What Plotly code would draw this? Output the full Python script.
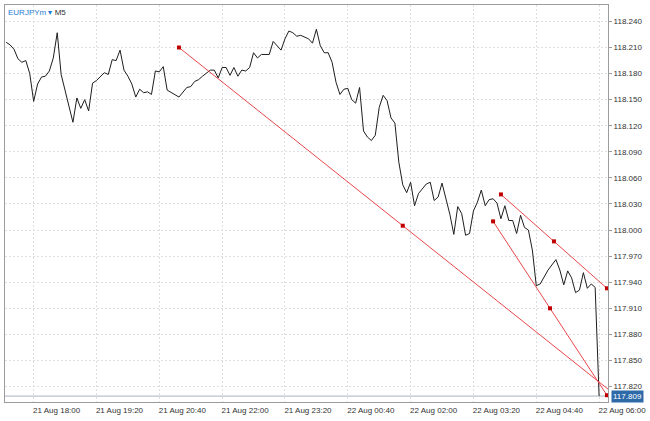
import plotly.graph_objects as go

# ---- price series (M5 closes, EURJPYm) ----
times = [
    "2019-08-21 17:25", "2019-08-21 17:30", "2019-08-21 17:35", "2019-08-21 17:40", "2019-08-21 17:45",
    "2019-08-21 17:50", "2019-08-21 17:55", "2019-08-21 18:00", "2019-08-21 18:05", "2019-08-21 18:10",
    "2019-08-21 18:15", "2019-08-21 18:20", "2019-08-21 18:25", "2019-08-21 18:30", "2019-08-21 18:35",
    "2019-08-21 18:45", "2019-08-21 18:50", "2019-08-21 18:55", "2019-08-21 19:00", "2019-08-21 19:05",
    "2019-08-21 19:10", "2019-08-21 19:15", "2019-08-21 19:20", "2019-08-21 19:30", "2019-08-21 19:35",
    "2019-08-21 19:40", "2019-08-21 19:45", "2019-08-21 19:50", "2019-08-21 19:55", "2019-08-21 20:00",
    "2019-08-21 20:05", "2019-08-21 20:10", "2019-08-21 20:15", "2019-08-21 20:20", "2019-08-21 20:25",
    "2019-08-21 20:30", "2019-08-21 20:35", "2019-08-21 20:40", "2019-08-21 20:45", "2019-08-21 20:50",
    "2019-08-21 20:55", "2019-08-21 21:05", "2019-08-21 21:15", "2019-08-21 21:20", "2019-08-21 21:25",
    "2019-08-21 21:30", "2019-08-21 21:35", "2019-08-21 21:45", "2019-08-21 21:50", "2019-08-21 21:55",
    "2019-08-21 22:00", "2019-08-21 22:05", "2019-08-21 22:10", "2019-08-21 22:15", "2019-08-21 22:20",
    "2019-08-21 22:25", "2019-08-21 22:30", "2019-08-21 22:35", "2019-08-21 22:40", "2019-08-21 22:45",
    "2019-08-21 22:50", "2019-08-21 23:00", "2019-08-21 23:05", "2019-08-21 23:10", "2019-08-21 23:15",
    "2019-08-21 23:20", "2019-08-21 23:25", "2019-08-21 23:30", "2019-08-21 23:35", "2019-08-21 23:40",
    "2019-08-21 23:50", "2019-08-21 23:55", "2019-08-22 00:00", "2019-08-22 00:05", "2019-08-22 00:10",
    "2019-08-22 00:15", "2019-08-22 00:20", "2019-08-22 00:25", "2019-08-22 00:30", "2019-08-22 00:35",
    "2019-08-22 00:40", "2019-08-22 00:45", "2019-08-22 00:50", "2019-08-22 00:55", "2019-08-22 01:00",
    "2019-08-22 01:05", "2019-08-22 01:10", "2019-08-22 01:15", "2019-08-22 01:20", "2019-08-22 01:25",
    "2019-08-22 01:30", "2019-08-22 01:35", "2019-08-22 01:40", "2019-08-22 01:45", "2019-08-22 01:50",
    "2019-08-22 01:55", "2019-08-22 02:00", "2019-08-22 02:05", "2019-08-22 02:10", "2019-08-22 02:20",
    "2019-08-22 02:25", "2019-08-22 02:30", "2019-08-22 02:35", "2019-08-22 02:40", "2019-08-22 02:45",
    "2019-08-22 02:50", "2019-08-22 02:55", "2019-08-22 03:00", "2019-08-22 03:05", "2019-08-22 03:10",
    "2019-08-22 03:15", "2019-08-22 03:20", "2019-08-22 03:25", "2019-08-22 03:30", "2019-08-22 03:35",
    "2019-08-22 03:40", "2019-08-22 03:45", "2019-08-22 03:50", "2019-08-22 03:55", "2019-08-22 04:00",
    "2019-08-22 04:05", "2019-08-22 04:10", "2019-08-22 04:15", "2019-08-22 04:20", "2019-08-22 04:25",
    "2019-08-22 04:30", "2019-08-22 04:35", "2019-08-22 04:40", "2019-08-22 04:45", "2019-08-22 04:55",
    "2019-08-22 05:05", "2019-08-22 05:10", "2019-08-22 05:15", "2019-08-22 05:20", "2019-08-22 05:25",
    "2019-08-22 05:30", "2019-08-22 05:35", "2019-08-22 05:40", "2019-08-22 05:45", "2019-08-22 05:50",
    "2019-08-22 05:55", "2019-08-22 06:00",
]
prices = [
    118.216, 118.213, 118.208, 118.197, 118.193,
    118.195, 118.180, 118.148, 118.168, 118.176,
    118.177, 118.183, 118.198, 118.227, 118.179,
    118.141, 118.124, 118.152, 118.140, 118.150,
    118.137, 118.169, 118.172, 118.181, 118.179,
    118.196, 118.195, 118.207, 118.184, 118.177,
    118.168, 118.153, 118.162, 118.158, 118.159,
    118.156, 118.183, 118.182, 118.188, 118.161,
    118.158, 118.153, 118.164, 118.165, 118.171,
    118.173, 118.177, 118.184, 118.184, 118.175,
    118.187, 118.187, 118.178, 118.187, 118.177,
    118.184, 118.183, 118.187, 118.204, 118.198,
    118.202, 118.202, 118.217, 118.212, 118.207,
    118.220, 118.229, 118.227, 118.223, 118.224,
    118.220, 118.215, 118.231, 118.212, 118.204,
    118.204, 118.193, 118.170, 118.156, 118.162,
    118.163, 118.150, 118.146, 118.164, 118.114,
    118.107, 118.103, 118.109, 118.141, 118.155,
    118.149, 118.129, 118.123, 118.078, 118.052,
    118.043, 118.055, 118.028, 118.042, 118.053,
    118.055, 118.034, 118.038, 118.054, 118.037,
    118.018, 117.995, 118.027, 118.019, 117.994,
    117.996, 118.022, 118.032, 118.046, 118.028,
    118.035, 118.036, 118.031, 118.013, 118.028,
    118.011, 118.011, 117.996, 118.017, 118.003,
    118.000, 117.977, 117.936, 117.938, 117.954,
    117.966, 117.954, 117.937, 117.953, 117.945,
    117.928, 117.931, 117.951, 117.933, 117.938,
    117.934, 117.809,
]

# ---- trend lines (start, middle handle, end) ----
trend_a_x = ["2019-08-21 21:05", "2019-08-22 01:50", "2019-08-22 06:35"]
trend_a_y = [118.210, 118.005, 117.800]
trend_b_x = ["2019-08-22 03:55", "2019-08-22 05:02:30", "2019-08-22 06:10"]
trend_b_y = [118.041, 117.987, 117.933]
trend_c_x = ["2019-08-22 03:45", "2019-08-22 04:57:30", "2019-08-22 06:10"]
trend_c_y = [118.010, 117.910, 117.810]

bid_price = 117.809
bid_label = "117.809"

# ---- axes ----
x_tick_vals = [
    "2019-08-21 18:00", "2019-08-21 19:20", "2019-08-21 20:40", "2019-08-21 22:00",
    "2019-08-21 23:20", "2019-08-22 00:40", "2019-08-22 02:00", "2019-08-22 03:20",
    "2019-08-22 04:40", "2019-08-22 06:00",
]
x_tick_text = [
    "21 Aug 18:00", "21 Aug 19:20", "21 Aug 20:40", "21 Aug 22:00", "21 Aug 23:20",
    "22 Aug 00:40", "22 Aug 02:00", "22 Aug 03:20", "22 Aug 04:40", "22 Aug 06:00",
]
y_tick_vals = [117.820, 117.850, 117.880, 117.910, 117.940, 117.970, 118.000, 118.030,
               118.060, 118.090, 118.120, 118.150, 118.180, 118.210, 118.240]
y_tick_text = ["117.820", "117.850", "117.880", "117.910", "117.940", "117.970", "118.000",
               "118.030", "118.060", "118.090", "118.120", "118.150", "118.180", "118.210",
               "118.240"]

symbol_label = "EURJPYm"
timeframe_label = "M5"

LINE_RED = "#e8474c"
DOT_RED = "#c00000"
GRID = "#dedede"
FONT = "Liberation Sans, Arial, sans-serif"

fig = go.Figure()
fig.add_trace(go.Scatter(x=times, y=prices, mode="lines",
                         line=dict(color="#1e1e1e", width=1), hoverinfo="skip"))

for tx, ty, clip in [(trend_a_x, trend_a_y, True), (trend_b_x, trend_b_y, False),
                     (trend_c_x, trend_c_y, False)]:
    fig.add_trace(go.Scatter(x=tx, y=ty, mode="lines+markers", cliponaxis=clip,
                             line=dict(color=LINE_RED, width=1),
                             marker=dict(color=DOT_RED, size=4, symbol="square"),
                             hoverinfo="skip"))

fig.add_shape(type="line", xref="paper", x0=0, x1=1, yref="y", y0=bid_price, y1=bid_price,
              line=dict(color="#a9b4c0", width=1), layer="below")

fig.add_annotation(xref="paper", yref="y", x=1, y=bid_price, xanchor="left", yanchor="middle",
                   xshift=3, text=bid_label, showarrow=False, bgcolor="#2f6aa8",
                   borderpad=1, font=dict(family=FONT, size=8, color="white"))

fig.add_annotation(xref="paper", yref="paper", x=0, y=1, xanchor="left", yanchor="top",
                   xshift=1, yshift=-1,
                   text=f"<span style='color:#1f7bd1'>{symbol_label} ▾</span> {timeframe_label}",
                   showarrow=False, font=dict(family=FONT, size=8, color="#333333"))

fig.update_layout(
    width=650, height=421,
    margin=dict(l=4, r=36, t=4, b=19),
    paper_bgcolor="white", plot_bgcolor="white",
    showlegend=False,
    font=dict(family=FONT, size=8, color="#333333"),
    xaxis=dict(
        type="date",
        range=["2019-08-21 17:23:30", "2019-08-22 06:11:20"],
        tickmode="array", tickvals=x_tick_vals, ticktext=x_tick_text,
        showgrid=True, gridcolor=GRID, griddash="2px,2px", gridwidth=1,
        showline=True, mirror=True, linecolor="#9c9c9c", linewidth=1,
        zeroline=False, ticks="", ticklabelshift=23, ticklabeloverflow="allow",
        tickfont=dict(family=FONT, size=8, color="#333333"),
    ),
    yaxis=dict(
        side="right",
        range=[117.8022, 118.2589],
        tickmode="array", tickvals=y_tick_vals, ticktext=y_tick_text,
        showgrid=True, gridcolor=GRID, griddash="2px,2px", gridwidth=1,
        showline=True, mirror=True, linecolor="#9c9c9c", linewidth=1,
        zeroline=False, ticks="outside", ticklen=3, tickcolor="#9c9c9c",
        ticklabeloverflow="allow",
        tickfont=dict(family=FONT, size=8, color="#333333"),
    ),
)

fig.write_html("out.html",
               config={"displayModeBar": False},
               post_script="document.body.style.margin='0';document.body.style.overflow='hidden';")
